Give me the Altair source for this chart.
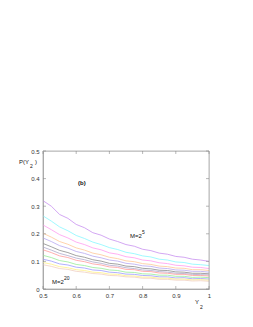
import altair as alt
import pandas as pd

x_vals = [0.5, 0.525, 0.55, 0.575, 0.6, 0.625, 0.65, 0.675, 0.7, 0.725, 0.75,
          0.775, 0.8, 0.825, 0.85, 0.875, 0.9, 0.925, 0.95, 0.975, 1.0]

curves = {
    "c01": [0.320,0.300,0.270,0.256,0.234,0.222,0.204,0.195,0.181,0.172,0.161,0.155,0.144,0.139,0.130,0.126,0.118,0.115,0.108,0.105,0.100],
    "c02": [0.265,0.246,0.225,0.211,0.194,0.183,0.170,0.161,0.150,0.143,0.133,0.128,0.120,0.116,0.108,0.105,0.098,0.096,0.090,0.088,0.085],
    "c03": [0.232,0.215,0.197,0.185,0.170,0.161,0.149,0.142,0.131,0.126,0.117,0.113,0.105,0.102,0.095,0.092,0.086,0.084,0.079,0.078,0.074],
    "c04": [0.202,0.188,0.172,0.162,0.149,0.141,0.130,0.124,0.115,0.110,0.102,0.099,0.092,0.089,0.083,0.081,0.076,0.075,0.070,0.070,0.067],
    "c05": [0.185,0.172,0.157,0.148,0.136,0.129,0.119,0.113,0.105,0.101,0.093,0.090,0.084,0.082,0.076,0.074,0.069,0.068,0.064,0.064,0.061],
    "c06": [0.165,0.153,0.140,0.132,0.121,0.115,0.106,0.101,0.093,0.090,0.083,0.081,0.075,0.073,0.068,0.067,0.062,0.061,0.057,0.057,0.055],
    "c07": [0.152,0.141,0.129,0.121,0.112,0.106,0.098,0.093,0.086,0.083,0.077,0.074,0.069,0.067,0.063,0.061,0.057,0.056,0.053,0.052,0.051],
    "c08": [0.142,0.132,0.120,0.114,0.104,0.099,0.091,0.087,0.080,0.078,0.071,0.070,0.064,0.063,0.058,0.057,0.053,0.053,0.049,0.049,0.047],
    "c09": [0.122,0.114,0.103,0.098,0.089,0.085,0.078,0.075,0.069,0.067,0.061,0.060,0.055,0.054,0.050,0.050,0.046,0.046,0.042,0.043,0.041],
    "c10": [0.108,0.101,0.091,0.087,0.079,0.076,0.069,0.067,0.061,0.059,0.054,0.053,0.049,0.048,0.044,0.044,0.040,0.041,0.037,0.038,0.036],
    "c11": [0.096,0.090,0.081,0.077,0.070,0.067,0.061,0.059,0.054,0.053,0.048,0.047,0.043,0.043,0.039,0.039,0.036,0.036,0.033,0.034,0.032],
    "c12": [0.088,0.082,0.074,0.071,0.064,0.061,0.056,0.054,0.049,0.048,0.044,0.043,0.039,0.039,0.035,0.035,0.032,0.032,0.029,0.030,0.028],
}
colors = ["#c890f0", "#88f8ff", "#ff9cf0", "#ffc898", "#b8a8f0", "#8c8c8c",
          "#b0aacc", "#ff9a9a", "#98ec98", "#9c9cff", "#fff088", "#f0cfc0"]

x_ticks = [0.5, 0.6, 0.7, 0.8, 0.9, 1.0]
y_ticks = [0, 0.1, 0.2, 0.3, 0.4, 0.5]

rows = []
for name, vals in curves.items():
    for xv, yv in zip(x_vals, vals):
        rows.append({"curve": name, "x": xv, "y": yv})
df = pd.DataFrame(rows)

FONT = "Liberation Sans"
xs = alt.Scale(domain=[0.5, 1.0], nice=False, zero=False)
ys = alt.Scale(domain=[0, 0.5], nice=False)

x_axis = alt.Axis(values=x_ticks, format="~g", title=None,
                  labelFont=FONT, labelFontSize=6, labelColor="#333", ticks=False,
                  labelOverlap=False, labelFlush=False,
                  domainColor="#aaa", labelPadding=3, grid=False)
y_axis = alt.Axis(values=y_ticks, format="~g", title=None,
                  labelFont=FONT, labelFontSize=6, labelColor="#333", ticks=False,
                  labelOverlap=False, labelFlush=False,
                  domainColor="#aaa", labelPadding=4, grid=False)

lines = alt.Chart(df).mark_line(strokeWidth=0.8, clip=True).encode(
    x=alt.X("x:Q", scale=xs, axis=x_axis),
    y=alt.Y("y:Q", scale=ys, axis=y_axis),
    color=alt.Color("curve:N", scale=alt.Scale(domain=list(curves.keys()), range=colors), legend=None),
)

frame = alt.Chart(pd.DataFrame({"a": [0]})).mark_rect(fill=None, stroke="#aaa", strokeWidth=0.8).encode(
    x=alt.value(0), x2=alt.value(166), y=alt.value(0), y2=alt.value(138))

xt = pd.DataFrame({"x": x_ticks})
yt = pd.DataFrame({"y": y_ticks})
tick_b = alt.Chart(xt).mark_rule(color="#888", strokeWidth=0.6).encode(
    x=alt.X("x:Q", scale=xs, axis=x_axis), y=alt.value(138), y2=alt.value(135))
tick_t = alt.Chart(xt).mark_rule(color="#888", strokeWidth=0.6).encode(
    x=alt.X("x:Q", scale=xs, axis=x_axis), y=alt.value(0), y2=alt.value(3))
tick_l = alt.Chart(yt).mark_rule(color="#888", strokeWidth=0.6).encode(
    y=alt.Y("y:Q", scale=ys, axis=y_axis), x=alt.value(0), x2=alt.value(3))
tick_r = alt.Chart(yt).mark_rule(color="#888", strokeWidth=0.6).encode(
    y=alt.Y("y:Q", scale=ys, axis=y_axis), x=alt.value(166), x2=alt.value(163))

def txt(s, x, y, size=6, **kw):
    return alt.Chart(pd.DataFrame({"t": [s]})).mark_text(
        text=s, font=FONT, fontSize=size, color="#111", align="left", baseline="middle", **kw
    ).encode(x=alt.value(x), y=alt.value(y))

labels = [
    txt("P(Y", -24, 11),
    txt("2", -13, 15, size=5),
    txt(")", -8, 11),
    txt("(b)", 35, 32, fontWeight="bold"),
    txt("M=2", 87, 85),
    txt("5", 99, 81, size=5),
    txt("M=2", 9, 131),
    txt("20", 21, 127, size=5),
    txt("Y", 152, 151),
    txt("2", 157, 156, size=5),
]

chart = alt.layer(lines, frame, tick_b, tick_t, tick_l, tick_r, *labels).properties(
    width=166, height=138,
    autosize=alt.AutoSizeParams(type="none"),
    padding={"left": 35, "top": 143, "right": 30, "bottom": 25},
).configure_view(stroke=None).configure(background="white")

chart.save("out.html", embed_options={"renderer": "svg", "actions": False})
